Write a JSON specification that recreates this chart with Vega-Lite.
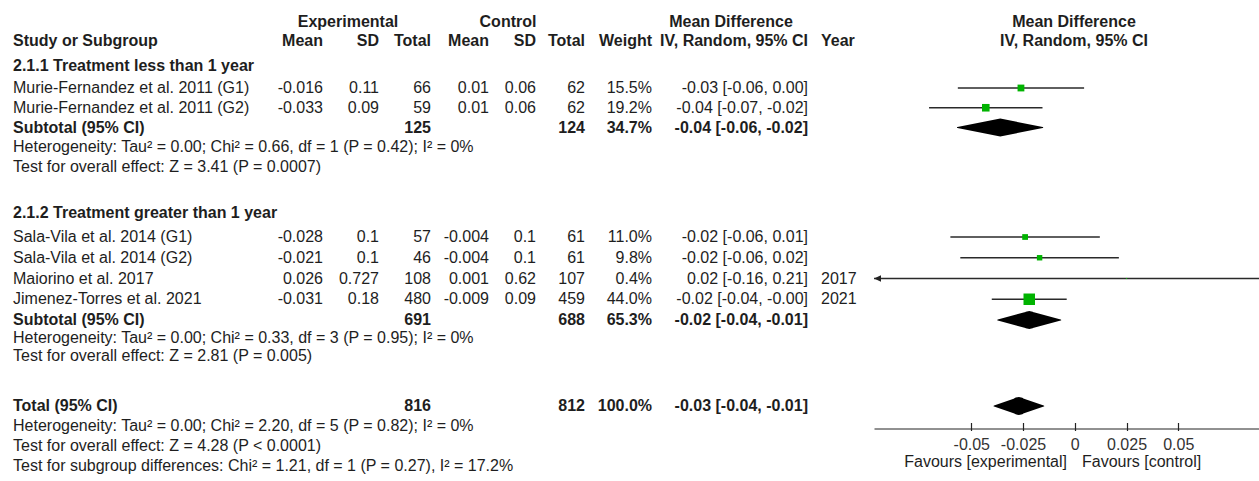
{
  "$schema": "https://vega.github.io/schema/vega-lite/v6.json",
  "width": 1259,
  "height": 481,
  "autosize": {"type": "none"},
  "padding": 0,
  "background": "white",
  "config": {
    "view": {"stroke": null},
    "text": {"font": "Liberation Sans", "fontSize": 16, "color": "#1e1e1e", "baseline": "middle"}
  },
  "datasets": {
    "cells": [
      {"row": -0.15, "c": 2, "t": "Experimental", "k": "head"},
      {"row": -0.15, "c": 6, "t": "Control", "k": "head"},
      {"row": -0.15, "c": 10, "t": "Mean Difference", "k": "head"},
      {"row": -0.15, "c": 14, "t": "Mean Difference", "k": "head"},
      {"row": 0.8, "c": 0, "t": "Study or Subgroup", "k": "head"},
      {"row": 0.8, "c": 1, "t": "Mean", "k": "head"},
      {"row": 0.8, "c": 3, "t": "SD", "k": "head"},
      {"row": 0.8, "c": 4, "t": "Total", "k": "head"},
      {"row": 0.8, "c": 5, "t": "Mean", "k": "head"},
      {"row": 0.8, "c": 7, "t": "SD", "k": "head"},
      {"row": 0.8, "c": 8, "t": "Total", "k": "head"},
      {"row": 0.8, "c": 9, "t": "Weight", "k": "head"},
      {"row": 0.8, "c": 11, "t": "IV, Random, 95% CI", "k": "head"},
      {"row": 0.8, "c": 12, "t": "Year", "k": "head"},
      {"row": 0.8, "c": 14, "t": "IV, Random, 95% CI", "k": "head"},
      {"row": 2, "c": 0, "t": "2.1.1 Treatment less than 1 year", "k": "group"},
      {"row": 3, "c": 0, "t": "Murie-Fernandez et al. 2011 (G1)", "k": "study"},
      {"row": 3, "c": 1, "t": "-0.016", "k": "study"},
      {"row": 3, "c": 3, "t": "0.11", "k": "study"},
      {"row": 3, "c": 4, "t": "66", "k": "study"},
      {"row": 3, "c": 5, "t": "0.01", "k": "study"},
      {"row": 3, "c": 7, "t": "0.06", "k": "study"},
      {"row": 3, "c": 8, "t": "62", "k": "study"},
      {"row": 3, "c": 9, "t": "15.5%", "k": "study"},
      {"row": 3, "c": 11, "t": "-0.03 [-0.06, 0.00]", "k": "study"},
      {"row": 4, "c": 0, "t": "Murie-Fernandez et al. 2011 (G2)", "k": "study"},
      {"row": 4, "c": 1, "t": "-0.033", "k": "study"},
      {"row": 4, "c": 3, "t": "0.09", "k": "study"},
      {"row": 4, "c": 4, "t": "59", "k": "study"},
      {"row": 4, "c": 5, "t": "0.01", "k": "study"},
      {"row": 4, "c": 7, "t": "0.06", "k": "study"},
      {"row": 4, "c": 8, "t": "62", "k": "study"},
      {"row": 4, "c": 9, "t": "19.2%", "k": "study"},
      {"row": 4, "c": 11, "t": "-0.04 [-0.07, -0.02]", "k": "study"},
      {"row": 5, "c": 0, "t": "Subtotal (95% CI)", "k": "sub"},
      {"row": 5, "c": 4, "t": "125", "k": "sub"},
      {"row": 5, "c": 8, "t": "124", "k": "sub"},
      {"row": 5, "c": 9, "t": "34.7%", "k": "sub"},
      {"row": 5, "c": 11, "t": "-0.04 [-0.06, -0.02]", "k": "sub"},
      {"row": 6, "c": 0, "t": "Heterogeneity: Tau² = 0.00; Chi² = 0.66, df = 1 (P = 0.42); I² = 0%", "k": "stat"},
      {"row": 7, "c": 0, "t": "Test for overall effect: Z = 3.41 (P = 0.0007)", "k": "stat"},
      {"row": 9, "c": 0, "t": "2.1.2 Treatment greater than 1 year", "k": "group"},
      {"row": 10, "c": 0, "t": "Sala-Vila et al. 2014 (G1)", "k": "study"},
      {"row": 10, "c": 1, "t": "-0.028", "k": "study"},
      {"row": 10, "c": 3, "t": "0.1", "k": "study"},
      {"row": 10, "c": 4, "t": "57", "k": "study"},
      {"row": 10, "c": 5, "t": "-0.004", "k": "study"},
      {"row": 10, "c": 7, "t": "0.1", "k": "study"},
      {"row": 10, "c": 8, "t": "61", "k": "study"},
      {"row": 10, "c": 9, "t": "11.0%", "k": "study"},
      {"row": 10, "c": 11, "t": "-0.02 [-0.06, 0.01]", "k": "study"},
      {"row": 11, "c": 0, "t": "Sala-Vila et al. 2014 (G2)", "k": "study"},
      {"row": 11, "c": 1, "t": "-0.021", "k": "study"},
      {"row": 11, "c": 3, "t": "0.1", "k": "study"},
      {"row": 11, "c": 4, "t": "46", "k": "study"},
      {"row": 11, "c": 5, "t": "-0.004", "k": "study"},
      {"row": 11, "c": 7, "t": "0.1", "k": "study"},
      {"row": 11, "c": 8, "t": "61", "k": "study"},
      {"row": 11, "c": 9, "t": "9.8%", "k": "study"},
      {"row": 11, "c": 11, "t": "-0.02 [-0.06, 0.02]", "k": "study"},
      {"row": 12, "c": 0, "t": "Maiorino et al. 2017", "k": "study"},
      {"row": 12, "c": 1, "t": "0.026", "k": "study"},
      {"row": 12, "c": 3, "t": "0.727", "k": "study"},
      {"row": 12, "c": 4, "t": "108", "k": "study"},
      {"row": 12, "c": 5, "t": "0.001", "k": "study"},
      {"row": 12, "c": 7, "t": "0.62", "k": "study"},
      {"row": 12, "c": 8, "t": "107", "k": "study"},
      {"row": 12, "c": 9, "t": "0.4%", "k": "study"},
      {"row": 12, "c": 11, "t": "0.02 [-0.16, 0.21]", "k": "study"},
      {"row": 12, "c": 12, "t": "2017", "k": "study"},
      {"row": 13, "c": 0, "t": "Jimenez-Torres et al. 2021", "k": "study"},
      {"row": 13, "c": 1, "t": "-0.031", "k": "study"},
      {"row": 13, "c": 3, "t": "0.18", "k": "study"},
      {"row": 13, "c": 4, "t": "480", "k": "study"},
      {"row": 13, "c": 5, "t": "-0.009", "k": "study"},
      {"row": 13, "c": 7, "t": "0.09", "k": "study"},
      {"row": 13, "c": 8, "t": "459", "k": "study"},
      {"row": 13, "c": 9, "t": "44.0%", "k": "study"},
      {"row": 13, "c": 11, "t": "-0.02 [-0.04, -0.00]", "k": "study"},
      {"row": 13, "c": 12, "t": "2021", "k": "study"},
      {"row": 14, "c": 0, "t": "Subtotal (95% CI)", "k": "sub"},
      {"row": 14, "c": 4, "t": "691", "k": "sub"},
      {"row": 14, "c": 8, "t": "688", "k": "sub"},
      {"row": 14, "c": 9, "t": "65.3%", "k": "sub"},
      {"row": 14, "c": 11, "t": "-0.02 [-0.04, -0.01]", "k": "sub"},
      {"row": 15, "c": 0, "t": "Heterogeneity: Tau² = 0.00; Chi² = 0.33, df = 3 (P = 0.95); I² = 0%", "k": "stat"},
      {"row": 16, "c": 0, "t": "Test for overall effect: Z = 2.81 (P = 0.005)", "k": "stat"},
      {"row": 18, "c": 0, "t": "Total (95% CI)", "k": "total"},
      {"row": 18, "c": 4, "t": "816", "k": "total"},
      {"row": 18, "c": 8, "t": "812", "k": "total"},
      {"row": 18, "c": 9, "t": "100.0%", "k": "total"},
      {"row": 18, "c": 11, "t": "-0.03 [-0.04, -0.01]", "k": "total"},
      {"row": 19, "c": 0, "t": "Heterogeneity: Tau² = 0.00; Chi² = 2.20, df = 5 (P = 0.82); I² = 0%", "k": "stat"},
      {"row": 20, "c": 0, "t": "Test for overall effect: Z = 4.28 (P < 0.0001)", "k": "stat"},
      {"row": 21, "c": 0, "t": "Test for subgroup differences: Chi² = 1.21, df = 1 (P = 0.27), I² = 17.2%", "k": "stat"},
      {"row": 20.8, "c": 13, "t": "Favours [experimental]", "k": "fav"},
      {"row": 20.8, "c": 15, "t": "Favours [control]", "k": "fav"}
    ],
    "studies": [
      {"row": 3, "md": -0.026, "lo": -0.0565, "hi": 0.0045, "w": 15.5},
      {"row": 4, "md": -0.043, "lo": -0.0704, "hi": -0.0156, "w": 19.2},
      {"row": 10, "md": -0.024, "lo": -0.0601, "hi": 0.0121, "w": 11.0},
      {"row": 11, "md": -0.017, "lo": -0.0553, "hi": 0.0213, "w": 9.8},
      {"row": 12, "md": 0.025, "lo": -0.1556, "hi": 0.2056, "w": 0.4},
      {"row": 13, "md": -0.022, "lo": -0.0401, "hi": -0.0039, "w": 44.0}
    ],
    "diamonds": [
      {"row": 5, "pt": "lo", "v": -0.0567},
      {"row": 5, "pt": "md", "v": -0.036},
      {"row": 5, "pt": "hi", "v": -0.0155},
      {"row": 14, "pt": "lo", "v": -0.0372},
      {"row": 14, "pt": "md", "v": -0.022},
      {"row": 14, "pt": "hi", "v": -0.0068},
      {"row": 18, "pt": "lo", "v": -0.039},
      {"row": 18, "pt": "md", "v": -0.027},
      {"row": 18, "pt": "hi", "v": -0.015}
    ]
  },
  "encoding": {
    "y": {
      "field": "row",
      "type": "quantitative",
      "scale": {
        "domain": [-1.2, 2, 3, 7, 9, 10, 14, 16, 18, 21, 22],
        "range": [0, 66, 88, 167, 213, 237, 320, 356, 406, 466, 486],
        "nice": false,
        "zero": false
      },
      "axis": null
    }
  },
  "layer": [
    {
      "data": {"values": [{}]},
      "mark": {"type": "rule", "color": "#111111", "strokeWidth": 1.5},
      "encoding": {"y": {"datum": 1.41, "type": "quantitative"}}
    },
    {
      "data": {"values": [{}]},
      "mark": {"type": "rule", "color": "#333333", "strokeWidth": 1},
      "encoding": {
        "x": {
          "datum": 0,
          "type": "quantitative",
          "scale": {"domain": [-0.097, 0.089], "range": [874, 1259], "clamp": true, "nice": false, "zero": false},
          "axis": {
            "title": null,
            "orient": "top",
            "offset": -428.5,
            "values": [-0.05, -0.025, 0, 0.025, 0.05],
            "labels": false,
            "domain": false,
            "grid": false,
            "ticks": true,
            "tickSize": 6,
            "tickWidth": 1.2,
            "tickColor": "#222222",
            "tickOpacity": 1
          }
        },
        "y": {"datum": 1.41, "type": "quantitative"},
        "y2": {"datum": 19.125}
      }
    },
    {
      "data": {"name": "cells"},
      "encoding": {
        "x": {
          "field": "c",
          "type": "quantitative",
          "scale": {
            "domain": [0, 1, 2, 3, 4, 5, 6, 7, 8, 9, 10, 11, 12, 13, 14, 15],
            "range": [13, 323, 348, 379, 431, 489, 508, 536, 585, 652, 731, 808, 821, 1067, 1074, 1082],
            "zero": false,
            "nice": false
          },
          "axis": null
        },
        "text": {"field": "t"}
      },
      "layer": [
        {
          "transform": [{"filter": {"and": [{"field": "c", "oneOf": [0, 12, 15]}, {"field": "k", "oneOf": ["study", "stat", "fav"]}]}}],
          "mark": {"type": "text", "align": "left"}
        },
        {
          "transform": [{"filter": {"and": [{"field": "c", "oneOf": [0, 12]}, {"field": "k", "oneOf": ["head", "group", "sub", "total"]}]}}],
          "mark": {"type": "text", "align": "left", "fontWeight": "bold"}
        },
        {
          "transform": [{"filter": {"and": [{"field": "c", "oneOf": [1, 3, 4, 5, 7, 8, 9, 11, 13]}, {"field": "k", "oneOf": ["study", "stat", "fav"]}]}}],
          "mark": {"type": "text", "align": "right"}
        },
        {
          "transform": [{"filter": {"and": [{"field": "c", "oneOf": [1, 3, 4, 5, 7, 8, 9, 11]}, {"field": "k", "oneOf": ["head", "group", "sub", "total"]}]}}],
          "mark": {"type": "text", "align": "right", "fontWeight": "bold"}
        },
        {
          "transform": [{"filter": {"field": "c", "oneOf": [2, 6, 10, 14]}}],
          "mark": {"type": "text", "align": "center", "fontWeight": "bold"}
        }
      ]
    },
    {
      "layer": [
        {
          "data": {"name": "studies"},
          "mark": {"type": "rule", "color": "#2a2a2a", "strokeWidth": 1.4},
          "encoding": {
            "x": {
              "field": "lo",
              "type": "quantitative",
              "scale": {"domain": [-0.097, 0.089], "range": [874, 1259], "clamp": true, "nice": false, "zero": false},
              "axis": {
                "title": null,
                "orient": "bottom",
                "values": [-0.05, -0.025, 0, 0.025, 0.05],
                "labelExpr": "toString(datum.value)",
                "offset": -52.5,
                "grid": false,
                "ticks": true,
                "domainColor": "#222222",
                "domainWidth": 1,
                "tickColor": "#222222",
                "tickWidth": 1.2,
                "tickSize": 2,
                "labelPadding": 6,
                "labelFont": "Liberation Sans",
                "labelFontSize": 16,
                "labelColor": "#333333",
                "labelOverlap": false,
                "labelFlush": false
              }
            },
            "x2": {"field": "hi"}
          }
        },
        {
          "data": {"name": "studies"},
          "transform": [{"filter": "datum.lo < -0.097"}],
          "mark": {"type": "point", "shape": "M0,0L2,-0.9L2,0.9Z", "filled": true, "color": "#222222", "opacity": 1, "size": 49},
          "encoding": {
            "x": {"field": "lo", "type": "quantitative"}
          }
        },
        {
          "data": {"name": "studies"},
          "mark": {"type": "point", "shape": "square", "filled": true, "color": "#00b300", "opacity": 1},
          "encoding": {
            "x": {"field": "md", "type": "quantitative"},
            "size": {
              "field": "w",
              "type": "quantitative",
              "scale": {"domain": [0, 44], "range": [0, 132]},
              "legend": null
            }
          }
        },
        {
          "data": {"name": "diamonds"},
          "mark": {"type": "trail", "color": "#000000"},
          "encoding": {
            "x": {"field": "v", "type": "quantitative"},
            "size": {
              "field": "pt",
              "type": "nominal",
              "scale": {"type": "ordinal", "domain": ["lo", "md", "hi"], "range": [0, 18, 0]},
              "legend": null
            },
            "detail": {"field": "row", "type": "nominal"},
            "order": {"field": "v", "type": "quantitative"}
          }
        }
      ],
      "resolve": {"scale": {"size": "independent"}}
    }
  ],
  "resolve": {"scale": {"x": "independent", "size": "independent"}}
}
